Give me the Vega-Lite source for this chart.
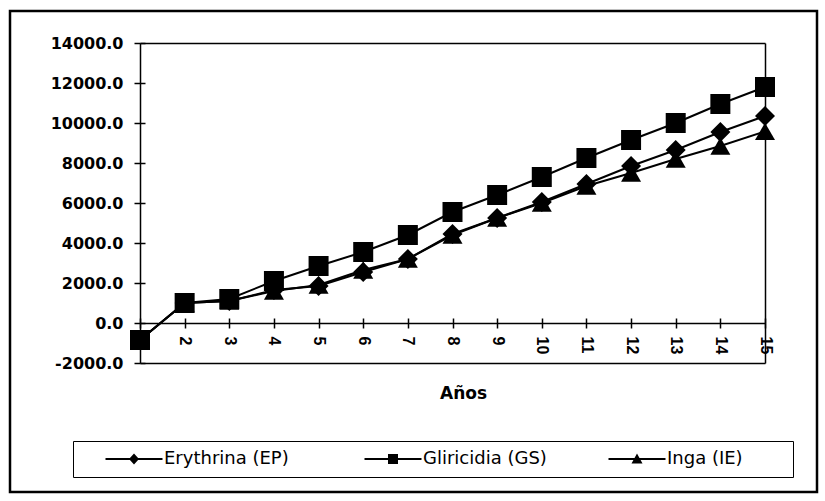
{
  "$schema": "https://vega.github.io/schema/vega-lite/v6.json",
  "width": 807,
  "height": 481,
  "autosize": {"type": "none"},
  "padding": {"left": 10, "top": 11, "right": 8, "bottom": 9},
  "background": "white",
  "config": {
    "view": {"stroke": "black", "strokeWidth": 2.5},
    "font": "DejaVu Sans",
    "axis": {"labelColor": "black", "domainColor": "black", "tickColor": "black", "titleColor": "black"}
  },
  "data": {
    "values": [
      {"anio": 1, "serie": "Erythrina (EP)", "valor": -850},
      {"anio": 2, "serie": "Erythrina (EP)", "valor": 1000},
      {"anio": 3, "serie": "Erythrina (EP)", "valor": 1100},
      {"anio": 4, "serie": "Erythrina (EP)", "valor": 1650},
      {"anio": 5, "serie": "Erythrina (EP)", "valor": 1850},
      {"anio": 6, "serie": "Erythrina (EP)", "valor": 2550},
      {"anio": 7, "serie": "Erythrina (EP)", "valor": 3200},
      {"anio": 8, "serie": "Erythrina (EP)", "valor": 4450},
      {"anio": 9, "serie": "Erythrina (EP)", "valor": 5250},
      {"anio": 10, "serie": "Erythrina (EP)", "valor": 6050},
      {"anio": 11, "serie": "Erythrina (EP)", "valor": 6950},
      {"anio": 12, "serie": "Erythrina (EP)", "valor": 7850},
      {"anio": 13, "serie": "Erythrina (EP)", "valor": 8650},
      {"anio": 14, "serie": "Erythrina (EP)", "valor": 9550},
      {"anio": 15, "serie": "Erythrina (EP)", "valor": 10350},
      {"anio": 1, "serie": "Gliricidia (GS)", "valor": -850},
      {"anio": 2, "serie": "Gliricidia (GS)", "valor": 1000},
      {"anio": 3, "serie": "Gliricidia (GS)", "valor": 1200},
      {"anio": 4, "serie": "Gliricidia (GS)", "valor": 2100},
      {"anio": 5, "serie": "Gliricidia (GS)", "valor": 2850},
      {"anio": 6, "serie": "Gliricidia (GS)", "valor": 3550},
      {"anio": 7, "serie": "Gliricidia (GS)", "valor": 4400},
      {"anio": 8, "serie": "Gliricidia (GS)", "valor": 5550},
      {"anio": 9, "serie": "Gliricidia (GS)", "valor": 6400},
      {"anio": 10, "serie": "Gliricidia (GS)", "valor": 7300},
      {"anio": 11, "serie": "Gliricidia (GS)", "valor": 8250},
      {"anio": 12, "serie": "Gliricidia (GS)", "valor": 9150},
      {"anio": 13, "serie": "Gliricidia (GS)", "valor": 10000},
      {"anio": 14, "serie": "Gliricidia (GS)", "valor": 10950},
      {"anio": 15, "serie": "Gliricidia (GS)", "valor": 11800},
      {"anio": 1, "serie": "Inga (IE)", "valor": -850},
      {"anio": 2, "serie": "Inga (IE)", "valor": 1000},
      {"anio": 3, "serie": "Inga (IE)", "valor": 1100},
      {"anio": 4, "serie": "Inga (IE)", "valor": 1600},
      {"anio": 5, "serie": "Inga (IE)", "valor": 1900},
      {"anio": 6, "serie": "Inga (IE)", "valor": 2650},
      {"anio": 7, "serie": "Inga (IE)", "valor": 3200},
      {"anio": 8, "serie": "Inga (IE)", "valor": 4400},
      {"anio": 9, "serie": "Inga (IE)", "valor": 5250},
      {"anio": 10, "serie": "Inga (IE)", "valor": 6000},
      {"anio": 11, "serie": "Inga (IE)", "valor": 6850},
      {"anio": 12, "serie": "Inga (IE)", "valor": 7500},
      {"anio": 13, "serie": "Inga (IE)", "valor": 8200},
      {"anio": 14, "serie": "Inga (IE)", "valor": 8850},
      {"anio": 15, "serie": "Inga (IE)", "valor": 9580}
    ]
  },
  "layer": [
    {
      "mark": {"type": "line", "color": "black", "strokeWidth": 2},
      "encoding": {
        "detail": {"field": "serie"},
        "x": {
          "field": "anio",
          "type": "quantitative",
          "scale": {"domain": [1, 15], "range": [130, 755], "nice": false, "zero": false},
          "axis": {
            "orient": "bottom",
            "offset": -169,
            "values": [1, 2, 3, 4, 5, 6, 7, 8, 9, 10, 11, 12, 13, 14, 15],
            "labelExpr": "datum.value == 1 ? '' : datum.label",
            "labelAngle": 90,
            "labelFont": "Liberation Sans",
            "labelFontSize": 16,
            "labelFontWeight": "bold",
            "labelPadding": 8,
            "labelOverlap": false,
            "labelFlush": false,
            "tickSize": 5,
            "tickWidth": 1.5,
            "domainWidth": 1.5,
            "grid": false,
            "title": "Años",
            "titleFont": "DejaVu Sans",
            "titleFontSize": 17,
            "titleFontWeight": "bold",
            "titleX": 453,
            "titleY": 70,
            "titleBaseline": "middle"
          }
        },
        "y": {
          "field": "valor",
          "type": "quantitative",
          "scale": {"domain": [-2000, 14000], "range": [352, 32], "nice": false, "zero": false},
          "axis": {
            "orient": "left",
            "offset": -130,
            "values": [-2000, 0, 2000, 4000, 6000, 8000, 10000, 12000, 14000],
            "labelExpr": "replace(format(datum.value, '.1f'), '−', '-')",
            "labelFont": "DejaVu Sans",
            "labelFontSize": 16,
            "labelFontWeight": "bold",
            "labelPadding": 11,
            "labelFlush": false,
            "labelOverlap": false,
            "tickSize": 6,
            "tickWidth": 1.5,
            "domainWidth": 1.5,
            "grid": false,
            "title": null
          }
        }
      }
    },
    {
      "mark": {"type": "point", "filled": true, "opacity": 1, "color": "black", "size": 400},
      "encoding": {
        "x": {
          "field": "anio",
          "type": "quantitative",
          "axis": {
            "orient": "top",
            "offset": -312,
            "values": [1, 2, 3, 4, 5, 6, 7, 8, 9, 10, 11, 12, 13, 14, 15],
            "labels": false,
            "domain": false,
            "ticks": true,
            "tickSize": 5,
            "tickWidth": 1.5,
            "grid": false,
            "title": null
          }
        },
        "y": {
          "field": "valor",
          "type": "quantitative",
          "axis": {
            "orient": "right",
            "offset": -677,
            "values": [-2000, 0, 2000, 4000, 6000, 8000, 10000, 12000, 14000],
            "labels": false,
            "domain": false,
            "ticks": true,
            "tickSize": 5,
            "tickWidth": 1.5,
            "grid": false,
            "title": null
          }
        },
        "shape": {
          "field": "serie",
          "type": "nominal",
          "scale": {"domain": ["Erythrina (EP)", "Gliricidia (GS)", "Inga (IE)"], "range": ["diamond", "square", "triangle-up"]},
          "legend": null
        }
      }
    },
    {
      "mark": {"type": "point", "filled": true, "color": "black", "opacity": 0, "size": 340},
      "encoding": {
        "x": {"field": "anio", "type": "quantitative", "axis": null},
        "y": {
          "field": "valor",
          "type": "quantitative",
          "axis": {
            "orient": "left",
            "offset": -755,
            "values": [-2000, 14000],
            "labels": false,
            "ticks": false,
            "domain": true,
            "domainWidth": 1.5,
            "grid": true,
            "gridColor": "black",
            "gridOpacity": 1,
            "gridWidth": 1.5,
            "title": null
          }
        },
        "shape": {
          "field": "serie",
          "type": "nominal",
          "scale": {
            "domain": ["Erythrina (EP)", "Gliricidia (GS)", "Inga (IE)"],
            "range": [
              "M-5.7,-0.2H5.7V0.2H-5.7Z M0,-1.1L1,0L0,1.1L-1,0Z M41.3,0L41.3,0Z",
              "M-5.7,-0.2H5.7V0.2H-5.7Z M-1,-1H1V1H-1Z M38.3,0L38.3,0Z",
              "M-5.7,-0.2H5.7V0.2H-5.7Z M0,-1.1L1.1,0.9H-1.1Z M29.3,0L29.3,0Z"
            ]
          },
          "legend": {
            "orient": "none",
            "legendX": 63,
            "legendY": 430,
            "direction": "horizontal",
            "columns": 3,
            "gridAlign": "each",
            "columnPadding": 0,
            "title": null,
            "strokeColor": "black",
            "padding": 9,
            "labelFont": "DejaVu Sans",
            "labelFontSize": 18,
            "labelColor": "black",
            "labelLimit": 300,
            "labelOffset": 21,
            "symbolOffset": 43,
            "symbolSize": 100,
            "symbolOpacity": 1,
            "symbolFillColor": "black",
            "symbolStrokeColor": "black",
            "symbolStrokeWidth": 0
          }
        }
      }
    }
  ],
  "resolve": {"axis": {"x": "independent", "y": "independent"}, "scale": {"shape": "independent"}}
}
